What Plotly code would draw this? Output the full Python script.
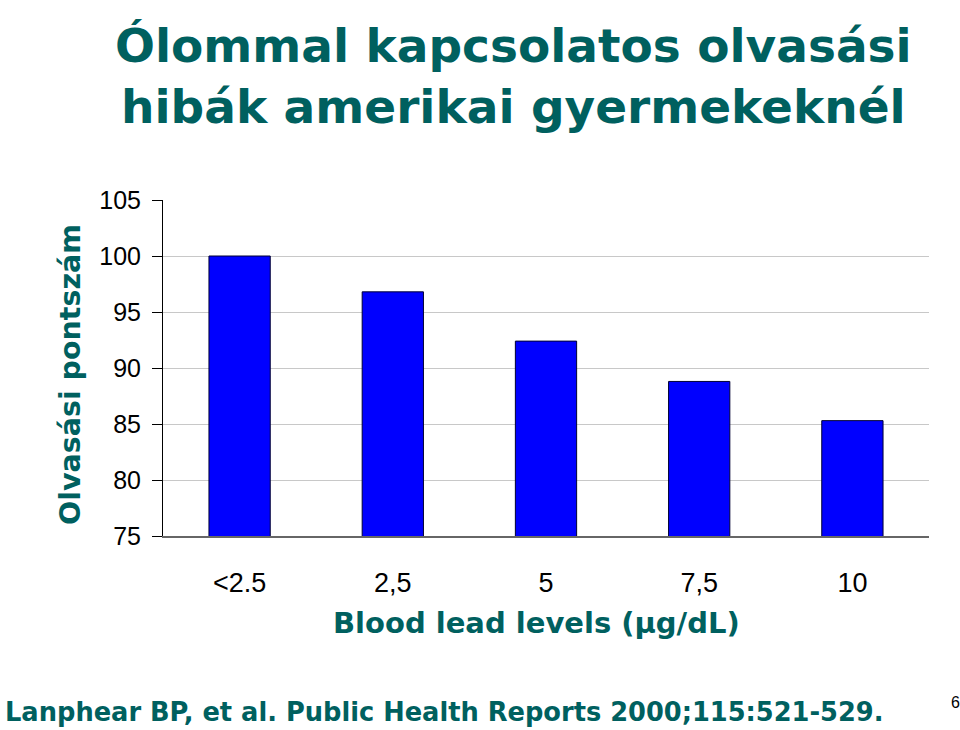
import plotly.graph_objects as go

categories = ["<2.5", "2,5", "5", "7,5", "10"]
scores = [100.0, 96.8, 92.4, 88.8, 85.3]
y_ticks = [75, 80, 85, 90, 95, 100, 105]

TEAL = "#00605f"
HEAD_FONT = "DejaVu Sans"

fig = go.Figure(
    go.Bar(
        x=categories,
        y=scores,
        marker=dict(color="#0000ff", line=dict(color="#000033", width=1)),
        width=0.4,
    )
)

fig.update_layout(
    width=960,
    height=730,
    margin=dict(l=163, r=31, t=200, b=194),
    paper_bgcolor="white",
    plot_bgcolor="white",
    showlegend=False,
    font=dict(family="Liberation Sans, Arial, sans-serif", color="black"),
    xaxis=dict(
        type="category",
        showline=True,
        linecolor="#666666",
        linewidth=2,
        ticks="",
        showgrid=False,
        tickfont=dict(size=27, family="Liberation Sans"),
        ticklabelstandoff=22,
    ),
    yaxis=dict(
        range=[75, 105],
        tickvals=y_ticks,
        showline=True,
        linecolor="black",
        linewidth=1,
        ticks="outside",
        ticklen=10,
        tickcolor="black",
        showgrid=True,
        gridcolor="#c8c8c8",
        gridwidth=1,
        zeroline=False,
        tickfont=dict(size=25, family="Liberation Sans"),
        ticklabelstandoff=6,
    ),
    annotations=[
        dict(
            text="<b>Ólommal kapcsolatos olvasási<br>hibák amerikai gyermekeknél</b>",
            xref="paper", yref="paper", x=0.457, y=1.37,
            xanchor="center", yanchor="middle", showarrow=False,
            font=dict(family=HEAD_FONT, size=47, color=TEAL),
            align="center",
        ),
        dict(
            text="<b>Olvasási pontszám</b>",
            xref="paper", yref="paper", x=-0.1214, y=0.479,
            xanchor="center", yanchor="middle", showarrow=False, textangle=-90,
            font=dict(family=HEAD_FONT, size=28.5, color=TEAL),
        ),
        dict(
            text="<b>Blood lead levels (μg/dL)</b>",
            xref="paper", yref="paper", x=0.488, y=-0.259,
            xanchor="center", yanchor="middle", showarrow=False,
            font=dict(family=HEAD_FONT, size=29, color=TEAL),
        ),
        dict(
            text="<b>Lanphear BP, et al. Public Health Reports 2000;115:521-529.</b>",
            xref="paper", yref="paper", x=0.368, y=-0.524,
            xanchor="center", yanchor="middle", showarrow=False,
            font=dict(family=HEAD_FONT, size=25.7, color=TEAL),
        ),
        dict(
            text="6",
            xref="paper", yref="paper", x=1.034, y=-0.497,
            xanchor="center", yanchor="middle", showarrow=False,
            font=dict(family="Liberation Sans", size=16, color="black"),
        ),
    ],
)

fig.write_html("out.html")
